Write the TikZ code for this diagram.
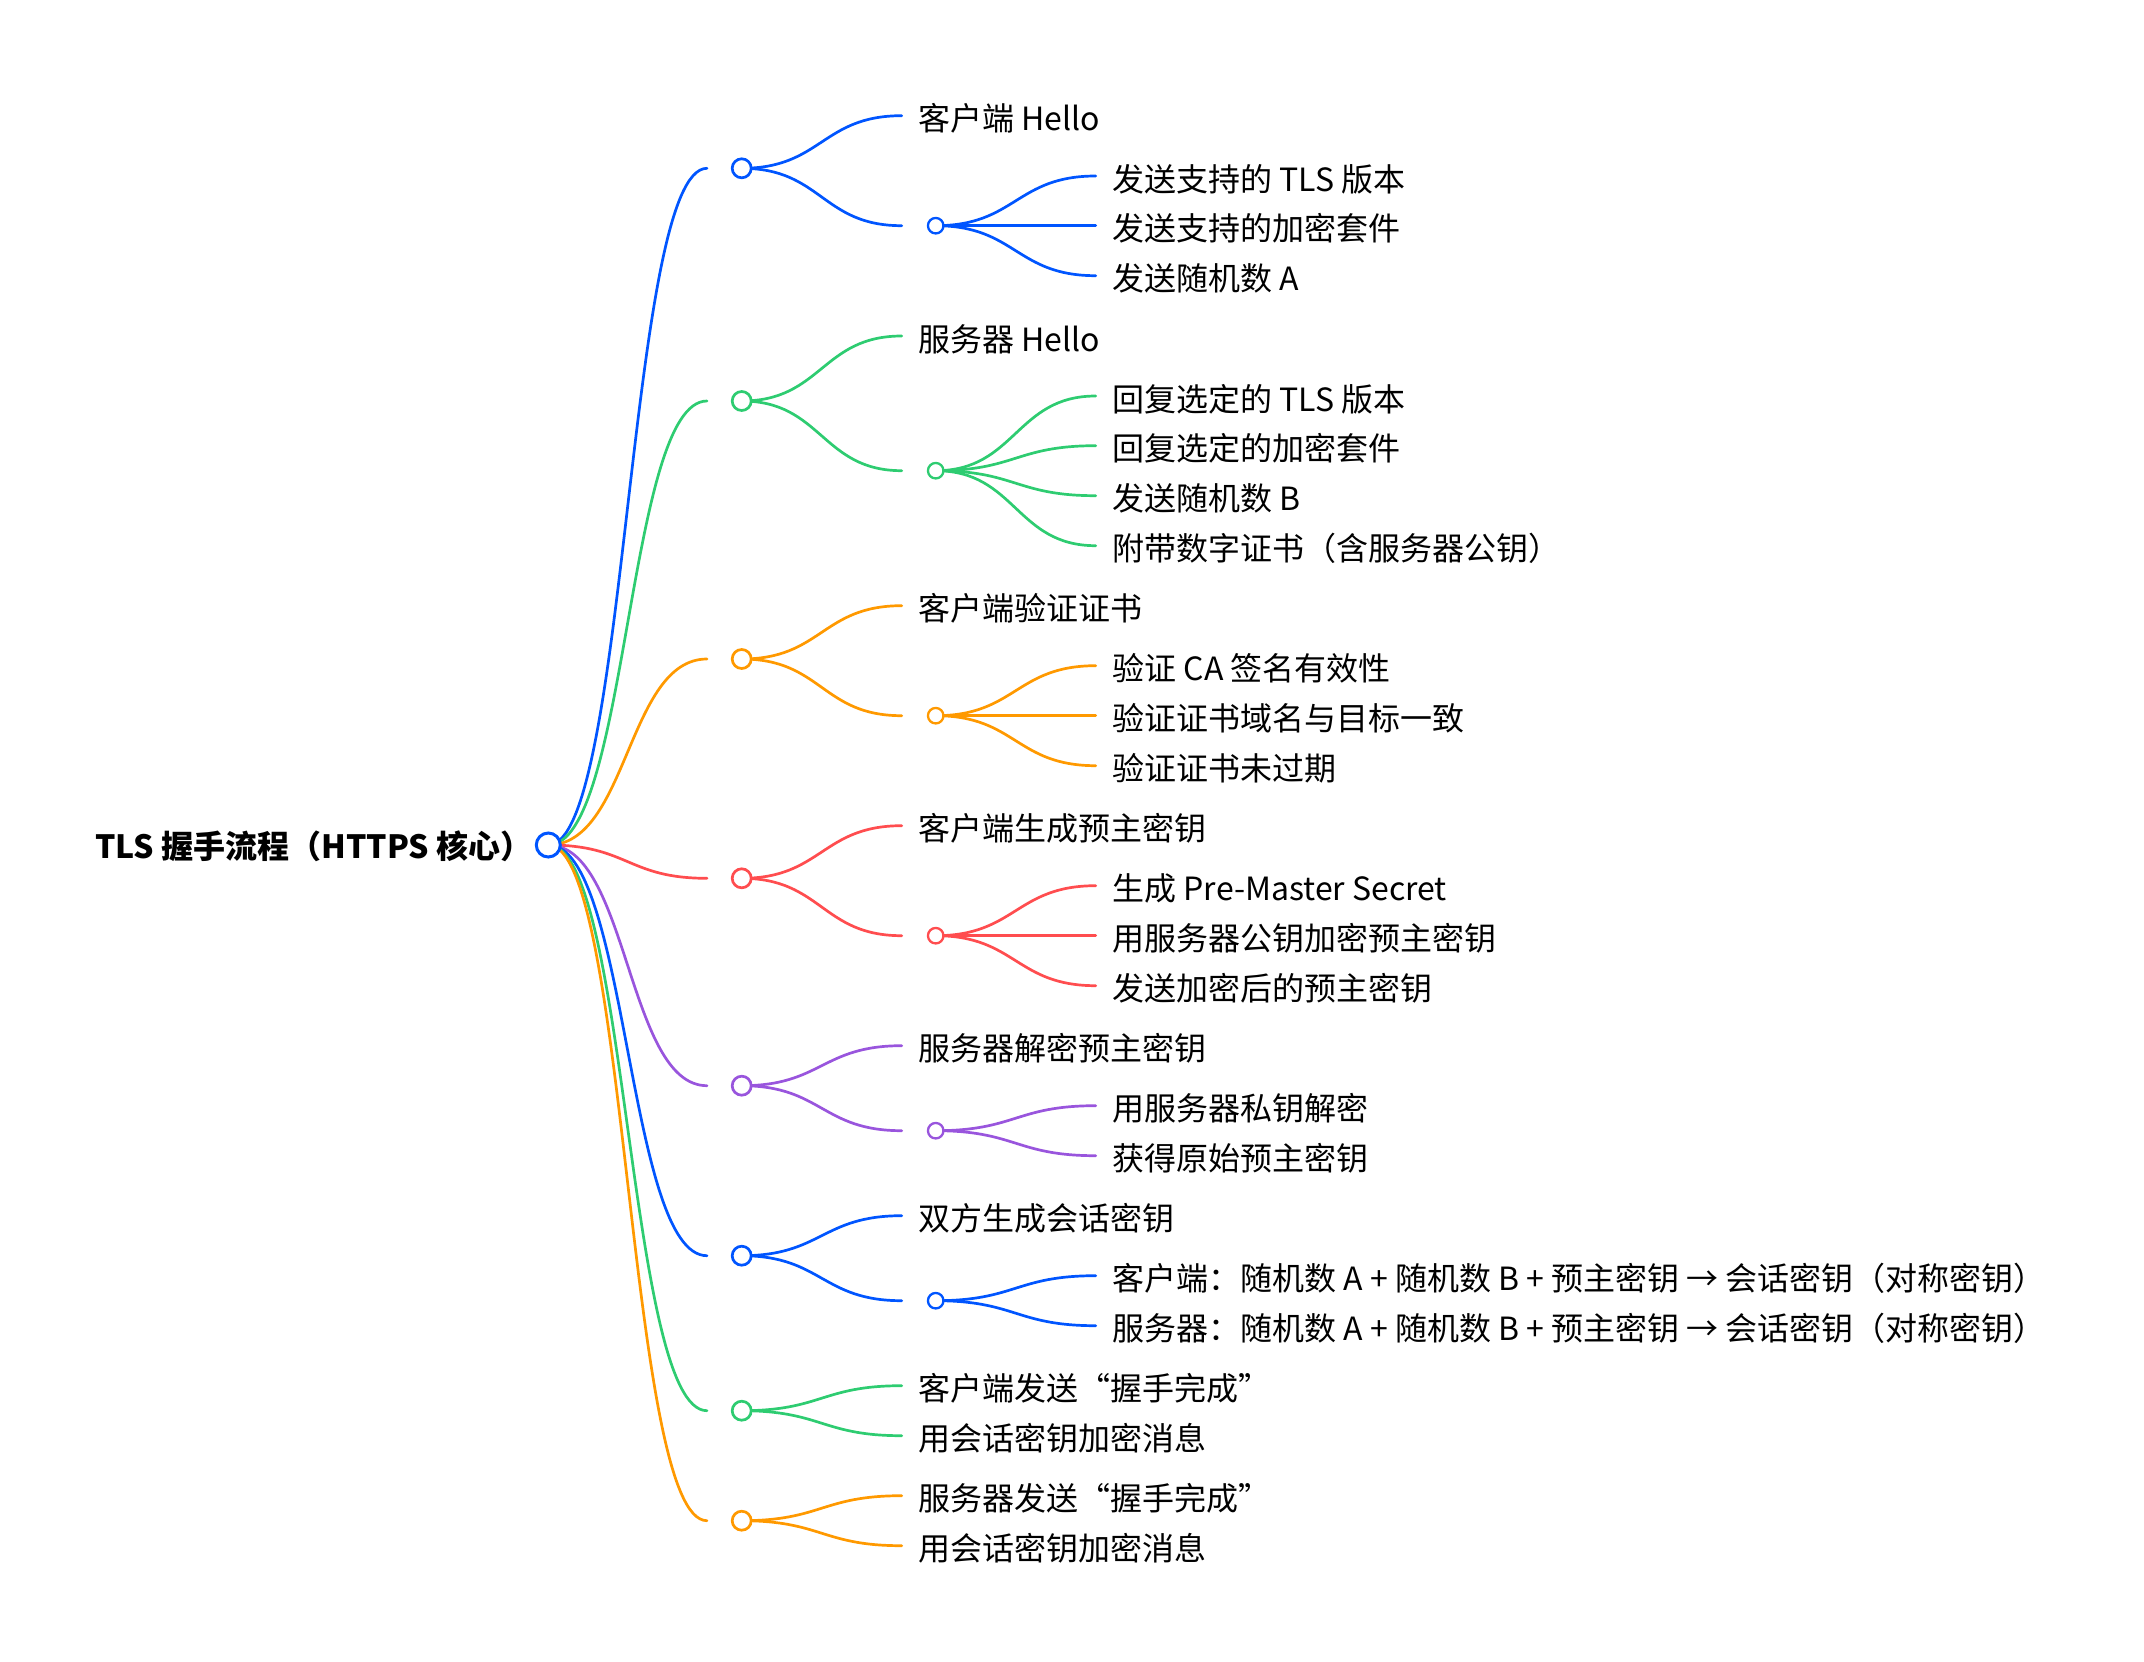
\documentclass[tikz,border=0pt]{standalone}
\usepackage{fontspec}
\setmainfont{Noto Sans CJK SC}
\pgfdeclarelayer{bg}
\pgfsetlayers{bg,main}
\definecolor{cblue}{RGB}{0,85,255}
\definecolor{cgreen}{RGB}{46,204,113}
\definecolor{corange}{RGB}{255,153,0}
\definecolor{cred}{RGB}{255,77,79}
\definecolor{cpurple}{RGB}{153,85,221}
\tikzset{
  rootcirc/.style={circle, draw=cblue, line width=3pt, fill=white, minimum size=24pt, inner sep=0pt},
  lonecirc/.style={circle, line width=2.7pt, fill=white, minimum size=19pt, inner sep=0pt},
  ltwocirc/.style={circle, line width=2.3pt, fill=white, minimum size=15.5pt, inner sep=0pt},
  txt/.style={anchor=base west, inner sep=0pt, outer sep=0pt, font=\fontsize{32}{38}\selectfont, text=black},
  link/.style={line width=2.7pt, line cap=round},
}
% #1 from node, #2 to coordinate, #3 colour
\newcommand\mylink[3]{\begin{pgfonlayer}{bg}\draw[link,draw=#3] (#1.center) .. controls +(80,0) and +(-80,0) .. (#2);\end{pgfonlayer}}
% label at level-2 column: #1 parent, #2 name, #3 colour, #4 y, #5 text
\newcommand\mylabel[5]{\coordinate (#2e) at (901.7,#4);
  \node[txt] (#2) at (918.5,#4+15) {#5};
  \mylink{#1}{#2e}{#3}}
% leaf at level-3 column
\newcommand\myleaf[5]{\coordinate (#2e) at (1095.7,#4);
  \node[txt] (#2) at (1112.5,#4+15) {#5};
  \mylink{#1}{#2e}{#3}}
% level-1 hub: #1 name, #2 colour, #3 y
\newcommand\myhub[3]{\coordinate (#1e) at (707,#3);
  \node[lonecirc, draw=#2] (#1) at (741.7,#3) {};
  \mylink{root}{#1e}{#2}}
% level-2 hub: #1 parent, #2 name, #3 colour, #4 y
\newcommand\mysub[4]{\coordinate (#2e) at (901.7,#4);
  \node[ltwocirc, draw=#3] (#2) at (935.7,#4) {};
  \mylink{#1}{#2e}{#3}}
\begin{document}
\begin{tikzpicture}[x=1pt,y=-1pt]
\useasboundingbox (0,0) rectangle (2144,1662);
\node[rootcirc] (root) at (548.3,845) {};
\node[txt, font=\fontsize{32}{38}\selectfont\bfseries] (roottext) at (95,858) {TLS 握手流程（HTTPS 核心）};

% group 1
\myhub{ga}{cblue}{168.3}
\mylabel{ga}{gaa}{cblue}{115.7}{客户端 Hello}
\mysub{ga}{gab}{cblue}{225.7}
\myleaf{gab}{gaba}{cblue}{176}{发送支持的 TLS 版本}
\myleaf{gab}{gabb}{cblue}{225.7}{发送支持的加密套件}
\myleaf{gab}{gabc}{cblue}{275.7}{发送随机数 A}

% group 2
\myhub{gb}{cgreen}{401}
\mylabel{gb}{gba}{cgreen}{336}{服务器 Hello}
\mysub{gb}{gbb}{cgreen}{470.7}
\myleaf{gbb}{gbba}{cgreen}{396}{回复选定的 TLS 版本}
\myleaf{gbb}{gbbb}{cgreen}{445.7}{回复选定的加密套件}
\myleaf{gbb}{gbbc}{cgreen}{495.7}{发送随机数 B}
\myleaf{gbb}{gbbd}{cgreen}{545.7}{附带数字证书（含服务器公钥）}

% group 3
\myhub{gc}{corange}{659}
\mylabel{gc}{gca}{corange}{605.7}{客户端验证证书}
\mysub{gc}{gcb}{corange}{715.7}
\myleaf{gcb}{gcba}{corange}{665.7}{验证 CA 签名有效性}
\myleaf{gcb}{gcbb}{corange}{715.7}{验证证书域名与目标一致}
\myleaf{gcb}{gcbc}{corange}{765.7}{验证证书未过期}

% group 4
\myhub{gd}{cred}{878.3}
\mylabel{gd}{gda}{cred}{825.7}{客户端生成预主密钥}
\mysub{gd}{gdb}{cred}{935.7}
\myleaf{gdb}{gdba}{cred}{885.7}{生成 Pre-Master Secret}
\myleaf{gdb}{gdbb}{cred}{935.7}{用服务器公钥加密预主密钥}
\myleaf{gdb}{gdbc}{cred}{985.7}{发送加密后的预主密钥}

% group 5
\myhub{ge}{cpurple}{1085.7}
\mylabel{ge}{gea}{cpurple}{1045.7}{服务器解密预主密钥}
\mysub{ge}{geb}{cpurple}{1130.7}
\myleaf{geb}{geba}{cpurple}{1105.7}{用服务器私钥解密}
\myleaf{geb}{gebb}{cpurple}{1155.7}{获得原始预主密钥}

% group 6
\myhub{gf}{cblue}{1255.7}
\mylabel{gf}{gfa}{cblue}{1215.7}{双方生成会话密钥}
\mysub{gf}{gfb}{cblue}{1300.7}
\myleaf{gfb}{gfba}{cblue}{1275.7}{客户端：随机数 A + 随机数 B + 预主密钥 → 会话密钥（对称密钥）}
\myleaf{gfb}{gfbb}{cblue}{1325.7}{服务器：随机数 A + 随机数 B + 预主密钥 → 会话密钥（对称密钥）}

% group 7
\myhub{gg}{cgreen}{1410.7}
\mylabel{gg}{gga}{cgreen}{1385.7}{客户端发送“握手完成”}
\mylabel{gg}{ggb}{cgreen}{1435.7}{用会话密钥加密消息}

% group 8
\myhub{gh}{corange}{1520.7}
\mylabel{gh}{gha}{corange}{1495.7}{服务器发送“握手完成”}
\mylabel{gh}{ghb}{corange}{1545.7}{用会话密钥加密消息}
\end{tikzpicture}
\end{document}
